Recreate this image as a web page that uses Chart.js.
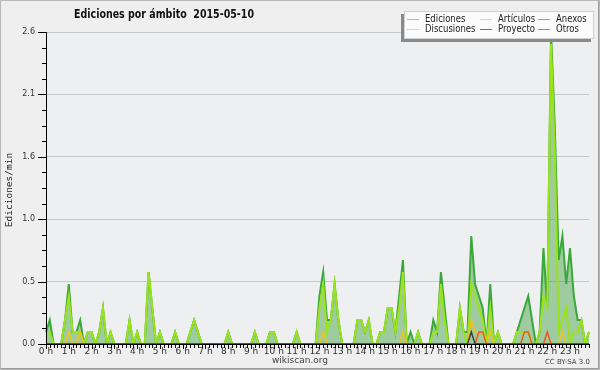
<!DOCTYPE html>
<html><head><meta charset="utf-8">
<script src="https://cdn.jsdelivr.net/npm/chart.js@4/dist/chart.umd.min.js"></script>
<style>html,body{margin:0;padding:0;background:#efefef}canvas{display:block}</style>
</head><body>
<canvas id="c" width="600" height="370"></canvas>
<script>
// ---- data (10-minute buckets, edits per minute) ----
const hourLabels = ['0 h','1 h','2 h','3 h','4 h','5 h','6 h','7 h','8 h','9 h','10 h','11 h',
  '12 h','13 h','14 h','15 h','16 h','17 h','18 h','19 h','20 h','21 h','22 h','23 h'];
const minuteSlots = ['00','10','20','30','40','50'];
const categories = [];
hourLabels.forEach((h, hi) => minuteSlots.forEach(m => categories.push(hi + ':' + m)));

const ediciones = [
  0.1,0.2,0,0,0,0.2, 0.5,0.1,0.1,0.2,0,0.1,
  0.1,0,0.1,0.3,0,0.1, 0,0,0,0,0.2,0,
  0.1,0,0,0.6,0.3,0, 0.1,0,0,0,0.1,0,
  0,0,0.1,0.2,0.1,0, 0,0,0,0,0,0,
  0.1,0,0,0,0,0, 0,0.1,0,0,0,0.1,
  0.1,0,0,0,0,0, 0.1,0,0,0,0,0,
  0.4,0.6,0.2,0.2,0.5,0.2, 0,0,0,0,0.2,0.2,
  0.1,0.2,0,0,0.1,0.1, 0.3,0.3,0.1,0.4,0.7,0,
  0.1,0,0.1,0,0,0, 0.2,0.1,0.6,0.3,0,0,
  0,0.3,0.1,0.1,0.9,0.5, 0.4,0.3,0,0.5,0,0.1,
  0,0,0,0,0.1,0.2, 0.3,0.4,0.2,0,0.1,0.8,
  0.3,2.6,1.8,0.7,0.9,0.5, 0.8,0.4,0.2,0.2,0,0.1
];
const articulos = [
  0.1,0.1,0,0,0,0.2, 0.4,0.1,0.1,0.1,0,0.1,
  0.1,0,0.1,0.3,0,0.1, 0,0,0,0,0.2,0,
  0.1,0,0,0.6,0.3,0, 0.1,0,0,0,0.1,0,
  0,0,0.1,0.2,0.1,0, 0,0,0,0,0,0,
  0.1,0,0,0,0,0, 0,0.1,0,0,0,0.1,
  0.1,0,0,0,0,0, 0.1,0,0,0,0,0,
  0.3,0.5,0.1,0.2,0.5,0.2, 0,0,0,0,0.2,0.2,
  0.1,0.2,0,0,0.1,0.1, 0.3,0.3,0.1,0.3,0.6,0,
  0,0,0.1,0,0,0, 0.1,0.1,0.5,0.2,0,0,
  0,0.3,0.1,0,0.5,0.4, 0.3,0.2,0,0.3,0,0.1,
  0,0,0,0,0.1,0.1, 0.1,0.1,0,0,0.1,0.4,
  0.3,2.5,1.6,0.1,0.2,0.3, 0,0.1,0.1,0.2,0,0.1
];
const anexos = [
  0,0,0,0,0,0, 0,0,0,0,0,0,
  0,0,0,0,0,0, 0,0,0,0,0,0,
  0,0,0,0,0,0, 0,0,0,0,0,0,
  0,0,0,0,0,0, 0,0,0,0,0,0,
  0,0,0,0,0,0, 0,0,0,0,0,0,
  0,0,0,0,0,0, 0,0,0,0,0,0,
  0,0,0,0,0,0, 0,0,0,0,0,0,
  0,0,0,0,0,0, 0,0,0,0,0,0,
  0,0,0,0,0,0, 0,0,0,0,0,0,
  0,0,0,0,0,0, 0.1,0.1,0,0,0,0,
  0,0,0,0,0,0, 0.1,0.1,0,0,0,0,
  0.1,0,0,0,0,0, 0,0,0,0,0,0
];
const discusiones = [
  0,0,0,0,0,0, 0.1,0,0,0.1,0,0,
  0,0,0,0,0,0, 0,0,0,0,0,0,
  0,0,0,0,0,0, 0,0,0,0,0,0,
  0,0,0,0,0,0, 0,0,0,0,0,0,
  0,0,0,0,0,0, 0,0,0,0,0,0,
  0,0,0,0,0,0, 0,0,0,0,0,0,
  0,0.1,0,0,0,0, 0,0,0,0,0,0,
  0,0,0,0,0,0, 0,0,0,0,0.1,0,
  0,0,0,0,0,0, 0,0,0,0,0,0,
  0,0,0,0,0.2,0.1, 0.1,0.1,0,0.1,0,0,
  0,0,0,0,0,0, 0,0,0,0,0,0,
  0,0,0,0,0.1,0, 0,0,0,0,0,0
];
const proyecto = [
  0,0,0,0,0,0, 0,0,0,0,0,0,
  0,0,0,0,0,0, 0,0,0,0,0,0,
  0,0,0,0,0,0, 0,0,0,0,0,0,
  0,0,0,0,0,0, 0,0,0,0,0,0,
  0,0,0,0,0,0, 0,0,0,0,0,0,
  0,0,0,0,0,0, 0,0,0,0,0,0,
  0,0,0,0,0,0, 0,0,0,0,0,0,
  0,0,0,0,0,0, 0,0,0,0,0,0,
  0,0,0,0,0,0, 0,0,0,0,0,0,
  0,0,0,0,0.1,0, 0,0,0,0,0,0,
  0,0,0,0,0,0, 0,0,0,0,0,0,
  0,0,0,0,0,0, 0,0,0,0,0,0
];
const otros = [
  0,0,0,0,0,0, 0,0,0,0,0,0,
  0,0,0,0,0,0, 0,0,0,0,0,0,
  0,0,0,0,0,0, 0,0,0,0,0,0,
  0,0,0,0,0,0, 0,0,0,0,0,0,
  0,0,0,0,0,0, 0,0,0,0,0,0,
  0,0,0,0,0,0, 0,0,0,0,0,0,
  0,0,0,0,0,0, 0,0,0,0,0,0,
  0,0,0,0,0,0, 0,0,0,0,0,0,
  0,0,0,0,0,0, 0,0,0,0,0,0,
  0,0,0,0,0,0, 0,0,0,0,0,0,
  0,0,0,0,0,0, 0,0,0,0,0,0,
  0,0,0,0,0,0, 0,0,0,0,0,0
];
const yTickValues = [0, 0.52, 1.04, 1.56, 2.08, 2.6];
const yTickLabels = ['0.0', '0.5', '1.0', '1.6', '2.1', '2.6'];

// ---- styling ----
const SANS = '"DejaVu Sans", sans-serif';

const legendPos = [[407, 19], [480, 19], [538, 19], [407, 29], [480, 29], [538, 29]];

function squeezeText(c, text, x, y, sx) {
  c.save();
  c.translate(x, y);
  c.scale(sx, 1);
  c.fillText(text, 0, 0);
  c.restore();
}

const decor = {
  id: 'decor',
  beforeDraw(chart) {
    const c = chart.ctx;
    c.save();
    c.fillStyle = '#efefef';
    c.fillRect(0, 0, chart.width, chart.height);
    const a = chart.chartArea;
    c.fillStyle = '#eeeff1';
    c.fillRect(a.left, a.top, a.right - a.left, a.bottom - a.top);
    c.restore();
  },
  afterDraw(chart) {
    const c = chart.ctx;
    const a = chart.chartArea;
    const xs = chart.scales.x, ys = chart.scales.y;
    c.save();
    // tick marks
    c.strokeStyle = '#000';
    c.lineWidth = 1;
    c.beginPath();
    for (let i = 0; i < categories.length; i++) {
      const px = Math.round(xs.getPixelForValue(i)) + 0.5;
      const len = (i % 6 === 0) ? 5 : 4;
      c.moveTo(px, a.bottom);
      c.lineTo(px, a.bottom + len);
    }
    for (let k = 0; k < yTickValues.length; k++) {
      const py = Math.round(ys.getPixelForValue(yTickValues[k])) + 0.5;
      c.moveTo(a.left - 8, py);
      c.lineTo(a.left, py);
      if (k < yTickValues.length - 1) {
        for (let m = 1; m < 4; m++) {
          const v = yTickValues[k] + (yTickValues[k + 1] - yTickValues[k]) * m / 4;
          const pm = Math.round(ys.getPixelForValue(v)) + 0.5;
          c.moveTo(a.left - 4, pm);
          c.lineTo(a.left, pm);
        }
      }
    }
    c.stroke();

    // title (squeezed to match the narrow face of the original)
    c.fillStyle = '#111';
    c.font = 'bold 13px ' + SANS;
    c.textAlign = 'center';
    c.textBaseline = 'middle';
    const title = 'Ediciones por ámbito  2015-05-10';
    squeezeText(c, title, 164, 15, 180 / c.measureText(title).width);

    // y axis title
    c.save();
    c.translate(10, 190);
    c.rotate(-Math.PI / 2);
    c.font = '9.5px "DejaVu Sans Mono", monospace';
    c.fillStyle = '#222';
    c.fillText('Ediciones/min', 0, 0);
    c.restore();

    // footer texts
    c.fillStyle = '#444';
    c.font = '9px ' + SANS;
    c.textAlign = 'center';
    c.fillText('wikiscan.org', 300, 361);
    c.font = '7px ' + SANS;
    c.textAlign = 'right';
    c.fillText('CC BY-SA 3.0', 590, 362);

    // legend box
    const lx = 404, ly = 11, lw = 190, lh = 28;
    c.fillStyle = '#8a8a8a';
    c.fillRect(lx - 3, ly + 3, lw, lh);
    c.fillStyle = '#fbfbfb';
    c.fillRect(lx, ly, lw, lh);
    c.strokeStyle = '#d0d0d0';
    c.strokeRect(lx + 0.5, ly + 0.5, lw - 1, lh - 1);
    c.font = '10px ' + SANS;
    c.textAlign = 'left';
    c.textBaseline = 'middle';
    chart.data.datasets.forEach((ds, n) => {
      const [px, py] = legendPos[n];
      c.strokeStyle = ds.legendColor;
      c.lineWidth = 1;
      c.beginPath();
      c.moveTo(px, py + 0.5);
      c.lineTo(px + 12, py + 0.5);
      c.stroke();
      c.fillStyle = '#222';
      squeezeText(c, ds.label, px + 18, py, 0.85);
    });

    // frame
    c.strokeStyle = '#b8b8b8';
    c.strokeRect(0.5, 0.5, chart.width - 1, chart.height - 1);
    c.strokeStyle = '#9a9a9a';
    c.beginPath();
    c.moveTo(chart.width - 1.5, 1); c.lineTo(chart.width - 1.5, chart.height - 1);
    c.moveTo(1, chart.height - 1.5); c.lineTo(chart.width - 1, chart.height - 1.5);
    c.stroke();
    c.restore();
  }
};

const lineDs = (label, data, color, legendColor, order, width, extra) => Object.assign({
  label, data, borderColor: color, legendColor, borderWidth: width,
  pointRadius: 0, tension: 0, fill: false, order
}, extra || {});

new Chart(document.getElementById('c'), {
  type: 'line',
  data: {
    labels: categories,
    datasets: [
      lineDs('Ediciones', ediciones, '#3aa83a', '#8fcf8f', 5, 2, { fill: 'origin', backgroundColor: 'rgba(60,160,60,0.45)' }),
      lineDs('Artículos', articulos, '#9be31a', '#c8f060', 4, 2),
      lineDs('Anexos', anexos, '#ee5a1e', '#f08a5c', 2, 1.5),
      lineDs('Discusiones', discusiones, '#f2c218', '#f6d860', 3, 1.5),
      lineDs('Proyecto', proyecto, '#404040', '#707070', 1, 1.5),
      lineDs('Otros', otros, '#9040f0', '#a868f0', 6, 1.5)
    ]
  },
  options: {
    responsive: false,
    animation: false,
    devicePixelRatio: 1,
    layout: { padding: { top: 32, right: 11, bottom: 0, left: 0 } },
    plugins: { legend: { display: false }, title: { display: false }, tooltip: { enabled: false } },
    scales: {
      x: {
        type: 'category', offset: false,
        grid: { display: false, drawTicks: false },
        border: { display: true, color: '#000', width: 1, z: 1 },
        ticks: {
          autoSkip: false, maxRotation: 0, minRotation: 0, padding: 2,
          font: { family: SANS, size: 9 }, color: '#333',
          callback: (v, i) => (i % 6 === 0 ? hourLabels[i / 6] : '')
        },
        afterFit: s => { s.height = 26; }
      },
      y: {
        min: 0, max: 2.6,
        afterBuildTicks: s => { s.ticks = yTickValues.map(v => ({ value: v })); },
        grid: { color: '#c8c8c8', drawTicks: false, lineWidth: 1 },
        border: { display: true, color: '#000', width: 1, z: 1 },
        ticks: {
          padding: 11, color: '#333', font: { family: SANS, size: 8 },
          callback: (v, i) => yTickLabels[i]
        },
        afterFit: s => { s.width = 46; }
      }
    }
  },
  plugins: [decor]
});
</script>
</body></html>
